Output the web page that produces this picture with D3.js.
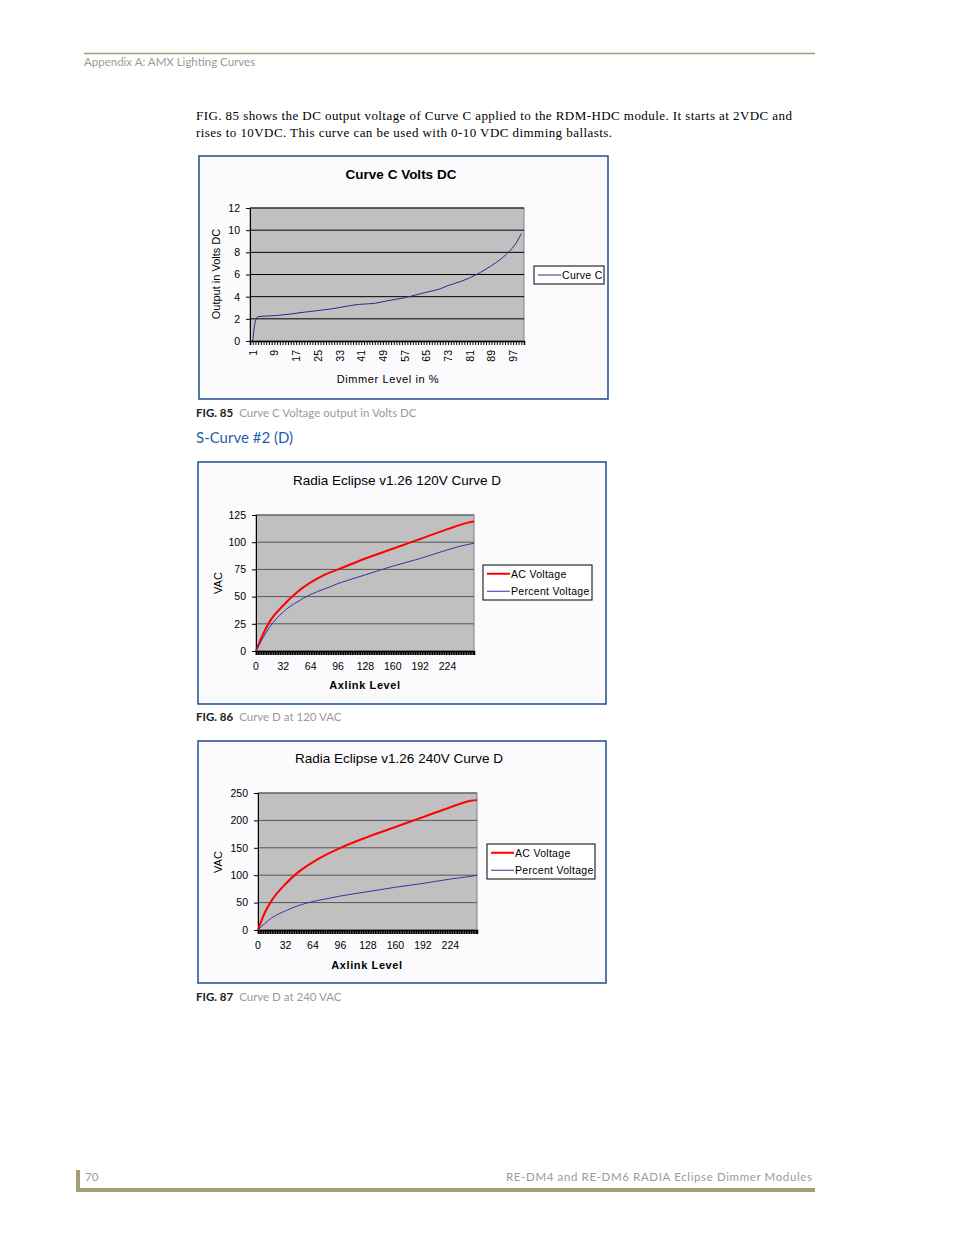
<!DOCTYPE html>
<html><head><meta charset="utf-8">
<script src="https://cdn.jsdelivr.net/npm/d3@7"></script>
<style>body{margin:0;background:#fff}</style>
</head><body>
<svg id="page" width="954" height="1235"></svg>
<script>
// Curve C (dimmer % -> volts DC)
let curveCLevels = [1, 2, 3, 10, 20, 30, 40, 46, 50, 57, 65, 70, 73, 78, 81, 85, 89, 93, 96, 98, 100];
let curveCVolts  = [0, 1.8, 2.2, 2.3, 2.6, 2.9, 3.3, 3.4, 3.6, 3.9, 4.4, 4.7, 5.0, 5.4, 5.7, 6.2, 6.8, 7.5, 8.2, 8.8, 9.7];
let curveCTicks = [1, 9, 17, 25, 33, 41, 49, 57, 65, 73, 81, 89, 97];

// Curve D (axlink level -> VAC)
let axLevels  = [0, 8, 16, 32, 48, 64, 80, 96, 128, 160, 192, 224, 248, 255];
let ac120     = [0, 15, 27, 42, 54, 63, 70, 75, 85, 94, 103, 112, 118, 119];
let pct120    = [0, 12, 22, 36, 45, 52, 57, 62, 70, 78, 85, 93, 98, 99];
let ac240     = [0, 32, 54, 84, 107, 124, 138, 150, 170, 188, 206, 224, 236, 237];
let pct240    = [0, 12, 22, 35, 45, 52, 57, 62, 70, 78, 85, 93, 98, 100];
let axTicks = [0, 32, 64, 96, 128, 160, 192, 224];

let svg = d3.select("#page");
let olive = "#a39c78", grey = "#9a9a9a";
let sans = "'Liberation Sans', Arial, sans-serif";

// page header / footer
svg.append("line").attr("x1",84).attr("x2",815).attr("y1",53.5).attr("y2",53.5).attr("stroke",olive).attr("stroke-width",1.5);
svg.append("text").attr("x",84).attr("y",66).attr("font-family","Lato").attr("font-size",11.5).attr("fill",grey).text("Appendix A: AMX Lighting Curves");
let para = svg.append("text").attr("font-family","'Liberation Serif', serif").attr("font-size",13).attr("fill","#000");
para.append("tspan").attr("x",196).attr("y",120).attr("textLength",596).text("FIG. 85 shows the DC output voltage of Curve C applied to the RDM-HDC module. It starts at 2VDC and");
para.append("tspan").attr("x",196).attr("y",137).attr("textLength",416).text("rises to 10VDC. This curve can be used with 0-10 VDC dimming ballasts.");
svg.append("rect").attr("x",76).attr("y",1188).attr("width",739).attr("height",4).attr("fill",olive);
svg.append("rect").attr("x",76).attr("y",1170).attr("width",4).attr("height",22).attr("fill",olive);
svg.append("text").attr("x",85).attr("y",1181).attr("font-family","Lato").attr("font-size",11.5).attr("fill",grey).text("70");
svg.append("text").attr("x",812).attr("y",1181).attr("text-anchor","end").attr("font-family","Lato").attr("font-size",11.5).attr("textLength",306).attr("fill",grey).text("RE-DM4 and RE-DM6 RADIA Eclipse Dimmer Modules");

function caption(y, fig, txt){
    let t = svg.append("text").attr("x",196).attr("y",y).attr("font-family","Lato").attr("font-size",11.5);
    t.append("tspan").attr("font-weight","bold").attr("fill","#222").text(fig);
    t.append("tspan").attr("fill",grey).attr("dx",6).text(txt);
}
caption(417, "FIG. 85", "Curve C Voltage output in Volts DC");
caption(721, "FIG. 86", "Curve D at 120 VAC");
caption(1001, "FIG. 87", "Curve D at 240 VAC");
svg.append("text").attr("x",196).attr("y",443).attr("font-family","Lato").attr("font-size",15).attr("fill","#1f5fa8").text("S-Curve #2 (D)");

function chart(o){
    let g = svg.append("g");
    g.append("rect").attr("x",o.box[0]).attr("y",o.box[1]).attr("width",o.box[2]).attr("height",o.box[3])
        .attr("fill","#fbfbfd").attr("stroke","#1f4e8c").attr("stroke-width",1.5);
    let p = o.plot;
    let x = d3.scaleLinear().domain(o.xDom).range([p[0], p[0]+p[2]]);
    let y = d3.scaleLinear().domain(o.yDom).range([p[1]+p[3], p[1]]);
    g.append("rect").attr("x",p[0]).attr("y",p[1]).attr("width",p[2]).attr("height",p[3]).attr("fill","#c0c0c0").attr("stroke","#808080");
    g.append("g").selectAll("line").data(o.yTicks.slice(1)).join("line")
        .attr("x1",p[0]).attr("x2",p[0]+p[2]).attr("y1",d=>y(d)).attr("y2",d=>y(d))
        .attr("stroke",o.gridCol).attr("stroke-width",o.gridW);
    let ya = g.append("g").attr("transform",`translate(${p[0]},0)`)
        .call(d3.axisLeft(y).tickValues(o.yTicks).tickSize(4).tickPadding(6));
    ya.selectAll("text").attr("font-family",sans).attr("font-size",10.5).attr("fill","#000");
    ya.select(".domain").attr("stroke","#000");
    // dense x ticks
    let xa = g.append("g").attr("transform",`translate(0,${p[1]+p[3]})`)
        .call(d3.axisBottom(x).tickValues(o.minor).tickSize(o.minorLen).tickFormat(""));
    xa.selectAll("line").attr("stroke","#000").attr("stroke-width",o.minorW);
    xa.select(".domain").attr("stroke","#000").attr("stroke-width",1.5);
    let lab = g.append("g").selectAll("text").data(o.xTicks).join("text").attr("font-family",sans).attr("font-size",10.5).text(d=>d);
    if(o.rotate){
        lab.attr("transform",d=>`translate(${x(d)+4},${p[1]+p[3]+9}) rotate(-90)`).attr("text-anchor","end");
    } else {
        lab.attr("x",d=>x(d)).attr("y",p[1]+p[3]+19).attr("text-anchor","middle");
    }
    o.series.forEach(s=>{
        g.append("path").datum(s.v.map((v,i)=>[o.xs[i],v]))
            .attr("d",d3.line().x(d=>x(d[0])).y(d=>y(d[1])).curve(d3.curveMonotoneX))
            .attr("fill","none").attr("stroke",s.col).attr("stroke-width",s.w);
    });
    g.append("text").attr("x",o.title[0]).attr("y",o.title[1]).attr("text-anchor","middle")
        .attr("font-family",sans).attr("font-size",13.5).attr("font-weight",o.titleBold?"bold":"normal").text(o.titleText);
    g.append("text").attr("x",o.xl[0]).attr("y",o.xl[1]).attr("text-anchor","middle").attr("font-family",sans).attr("font-size",11).attr("font-weight",o.xlBold?"bold":"normal").attr("letter-spacing",0.6).text(o.xLabel);
    g.append("text").attr("transform",`translate(${o.yl[0]},${o.yl[1]}) rotate(-90)`).attr("text-anchor","middle").attr("font-family",sans).attr("font-size",11).text(o.yLabel);
    let L = o.legend;
    g.append("rect").attr("x",L[0]).attr("y",L[1]).attr("width",L[2]).attr("height",L[3]).attr("fill","#fff").attr("stroke","#000");
    o.series.forEach((s,i)=>{
        let yy = L[1] + (L[3]/o.series.length)*(i+0.5);
        g.append("line").attr("x1",L[0]+4).attr("x2",L[0]+27).attr("y1",yy).attr("y2",yy).attr("stroke",s.col).attr("stroke-width",s.w);
        g.append("text").attr("x",L[0]+28).attr("y",yy+4).attr("font-family",sans).attr("font-size",10.5).attr("letter-spacing",0.3).text(s.name);
    });
}

chart({box:[199,156,409,243], plot:[250,208,274,133], xDom:[0,101], yDom:[0,12],
    yTicks:[0,2,4,6,8,10,12], xTicks:curveCTicks, minor:d3.range(1,102), minorLen:4, minorW:1, rotate:true,
    gridCol:"#000", gridW:1, xs:curveCLevels,
    series:[{name:"Curve C", v:curveCVolts, col:"#2a2a8c", w:1}],
    title:[401,179], titleBold:true, titleText:"Curve C Volts DC",
    xl:[388,383], xLabel:"Dimmer Level in %", yl:[220,274], yLabel:"Output in Volts DC",
    legend:[534,266,70,18]});

chart({box:[198,462,408,242], plot:[256,515,218,136], xDom:[0,255], yDom:[0,125],
    yTicks:[0,25,50,75,100,125], xTicks:axTicks, minor:d3.range(0,256,2), minorLen:4, minorW:1.5, rotate:false,
    gridCol:"#555", gridW:1, xs:axLevels,
    series:[{name:"AC Voltage", v:ac120, col:"#ff0000", w:2},{name:"Percent Voltage", v:pct120, col:"#3333aa", w:1}],
    title:[397,485], titleBold:false, titleText:"Radia Eclipse v1.26 120V Curve D",
    xl:[365,689], xlBold:true, xLabel:"Axlink Level", yl:[222,583], yLabel:"VAC",
    legend:[483,565,109,35]});

chart({box:[198,741,408,242], plot:[258,793,219,137], xDom:[0,255], yDom:[0,250],
    yTicks:[0,50,100,150,200,250], xTicks:axTicks, minor:d3.range(0,256,2), minorLen:4, minorW:1.5, rotate:false,
    gridCol:"#555", gridW:1, xs:axLevels,
    series:[{name:"AC Voltage", v:ac240, col:"#ff0000", w:2},{name:"Percent Voltage", v:pct240, col:"#3333aa", w:1}],
    title:[399,763], titleBold:false, titleText:"Radia Eclipse v1.26 240V Curve D",
    xl:[367,969], xlBold:true, xLabel:"Axlink Level", yl:[222,862], yLabel:"VAC",
    legend:[487,844,108,35]});
</script>
</body></html>
